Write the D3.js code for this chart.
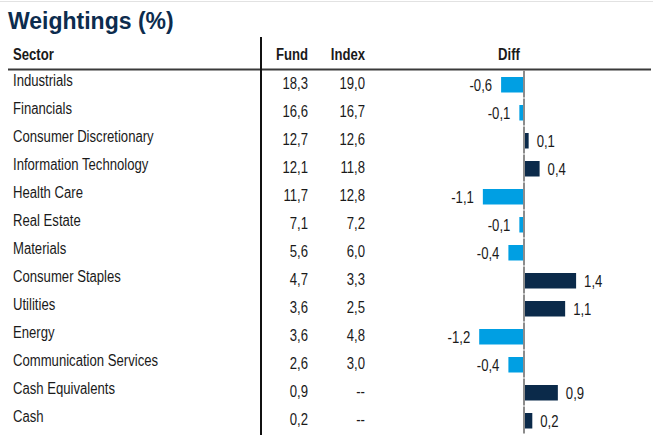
<!DOCTYPE html>
<html lang="en">
<head>
    <meta charset="UTF-8">
    <title>Weightings (%)</title>
    <script src="https://d3js.org/d3.v7.min.js"></script>
    <style>
        body { margin: 0; background: #fff; }
        text { font-family: "Liberation Sans", Arial, sans-serif; }
    </style>
</head>
<body>
    <svg width="653" height="438" id="chart"></svg>

    <script>
        // table data
        const sectors = ["Industrials", "Financials", "Consumer Discretionary", "Information Technology",
            "Health Care", "Real Estate", "Materials", "Consumer Staples", "Utilities", "Energy",
            "Communication Services", "Cash Equivalents", "Cash"];
        const fund = ["18,3", "16,6", "12,7", "12,1", "11,7", "7,1", "5,6", "4,7", "3,6", "3,6", "2,6", "0,9", "0,2"];
        const index = ["19,0", "16,7", "12,6", "11,8", "12,8", "7,2", "6,0", "3,3", "2,5", "4,8", "3,0", "--", "--"];
        const diff = [-0.6, -0.1, 0.1, 0.4, -1.1, -0.1, -0.4, 1.4, 1.1, -1.2, -0.4, 0.9, 0.2];
        const headers = ["Sector", "Fund", "Index", "Diff"];

        const svg = d3.select("#chart");
        const navy = "#0b2a4a", sky = "#009fe3";
        const squeeze = 0.82; // narrow look of the original font

        const rows = sectors.map((s, i) => ({ sector: s, fund: fund[i], index: index[i], diff: diff[i] }));

        // row bands
        const y = d3.scaleBand().domain(sectors).range([70, 70 + 28 * sectors.length]);
        // diff scale, zero at 524
        const x = d3.scaleLinear().domain([-1.4, 1.4]).range([524 - 1.4 * 36.5, 524 + 1.4 * 36.5]);
        const fmt = v => d3.format(".1f")(v).replace(".", ",").replace("−", "-");

        // place a text at (tx, ty) squeezed horizontally
        function at(sel, tx, ty) {
            return sel.attr("transform", d => {
                const a = typeof tx === "function" ? tx(d) : tx;
                return `translate(${a},${ty}) scale(${squeeze},1)`;
            });
        }

        // thin line at the very top
        svg.append("line").attr("x1", 0).attr("x2", 653).attr("y1", 1.5).attr("y2", 1.5)
            .attr("stroke", "#e2e2e2").attr("stroke-width", 1);

        svg.append("text").attr("x", 8).attr("y", 29)
            .attr("font-size", 23).attr("font-weight", "bold").attr("fill", "#0c2c4e")
            .text("Weightings (%)");

        // headers
        const head = svg.append("g").attr("font-size", 16).attr("font-weight", "bold").attr("fill", "#1a1a1a");
        at(head.append("text"), 13, 60).text(headers[0]);
        at(head.append("text"), 308, 60).attr("text-anchor", "end").text(headers[1]);
        at(head.append("text"), 365, 60).attr("text-anchor", "end").text(headers[2]);
        at(head.append("text"), 509, 60).attr("text-anchor", "middle").text(headers[3]);

        svg.append("line").attr("x1", 8).attr("x2", 651).attr("y1", 69.5).attr("y2", 69.5)
            .attr("stroke", "#3a3a3a").attr("stroke-width", 2);

        svg.append("line").attr("x1", 261).attr("x2", 261).attr("y1", 37).attr("y2", 435)
            .attr("stroke", "#111").attr("stroke-width", 2);

        const row = svg.append("g").selectAll("g").data(rows).join("g")
            .attr("transform", d => `translate(0,${y(d.sector)})`)
            .attr("font-size", 16).attr("fill", "#1a1a1a");

        at(row.append("text"), 13, 16).text(d => d.sector);
        at(row.append("text"), 308, 19).attr("text-anchor", "end").text(d => d.fund);
        at(row.append("text"), 365, 19).attr("text-anchor", "end").text(d => d.index);

        // zero line, broken at each row edge
        row.append("line").attr("x1", x(0)).attr("x2", x(0)).attr("y1", 0.5).attr("y2", y.bandwidth() - 0.5)
            .attr("stroke", "#8c8c8c").attr("stroke-width", 2);

        row.append("rect")
            .attr("x", d => d.diff < 0 ? x(d.diff) - 1 : x(0) + 1)
            .attr("y", 7)
            .attr("width", d => Math.abs(x(d.diff) - x(0)))
            .attr("height", 15.5)
            .attr("fill", d => d.diff < 0 ? sky : navy);

        at(row.append("text"), d => d.diff < 0 ? x(d.diff) - 10 : x(d.diff) + 9, 21)
            .attr("text-anchor", d => d.diff < 0 ? "end" : "start")
            .text(d => fmt(d.diff));
    </script>
</body>
</html>
